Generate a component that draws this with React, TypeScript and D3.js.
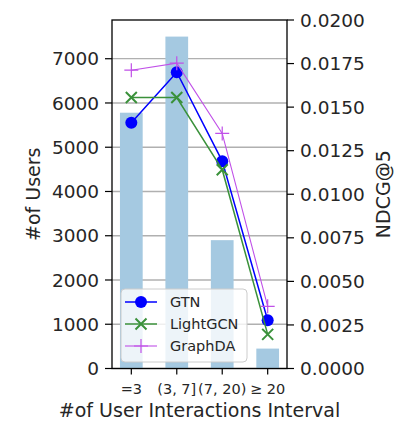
import React from "react";
import * as d3 from "d3";

const categories = ["=3", "(3, 7]", "(7, 20)", "≥ 20"];
const userCounts = [5780, 7500, 2900, 450];
const gtn = [0.0141, 0.0170, 0.0119, 0.00277];
const lightgcn = [0.01555, 0.01555, 0.01141, 0.00196];
const graphda = [0.01712, 0.01752, 0.01349, 0.00357];
const leftTicks = [0, 1000, 2000, 3000, 4000, 5000, 6000, 7000];
const rightTicks = [0, 0.0025, 0.005, 0.0075, 0.01, 0.0125, 0.015, 0.0175, 0.02];

const W = 395, H = 422;
const L = 112, R = 287, T = 20, B = 368.5;
const FONT = "DejaVu Sans";

export default function App() {
  const x = d3.scaleLinear().domain([-0.425, 3.425]).range([L, R]);
  const yL = d3.scaleLinear().domain([0, 7875]).range([B, T]);
  const yR = d3.scaleLinear().domain([0, 0.02]).range([B, T]);
  const idx = categories.map((_, i) => i);
  const line = (vals: number[]) =>
    d3.line<number>().x((_, i) => x(i)).y((v) => yR(v))(vals) || "";

  const series = [
    { name: "GTN", vals: gtn, color: "#0000ff", marker: "o", lw: 1.5 },
    { name: "LightGCN", vals: lightgcn, color: "#3a913a", marker: "x", lw: 1.5 },
    { name: "GraphDA", vals: graphda, color: "#c050e8", marker: "+", lw: 1.1 },
  ];

  const drawMarker = (m: string, cx: number, cy: number, color: string, key: any) => {
    if (m === "o") return <circle key={key} cx={cx} cy={cy} r={6} fill={color} />;
    if (m === "x") {
      const s = 5.5;
      return (
        <path key={key} d={`M${cx - s},${cy - s}L${cx + s},${cy + s}M${cx - s},${cy + s}L${cx + s},${cy - s}`}
          stroke={color} strokeWidth={2} fill="none" />
      );
    }
    const s = 7;
    return (
      <path key={key} d={`M${cx - s},${cy}L${cx + s},${cy}M${cx},${cy - s}L${cx},${cy + s}`}
        stroke={color} strokeWidth={1.2} fill="none" />
    );
  };

  const bw = x(0.5) - x(0);

  return (
    <svg width={W} height={H} style={{ position: "absolute", left: 0, top: 0 }}>
      <rect x={0} y={0} width={W} height={H} fill="#fff" />
      {/* gridlines (left axis) */}
      {leftTicks.map((t) => (
        <line key={"g" + t} x1={L} x2={R} y1={yL(t)} y2={yL(t)} stroke="#b0b0b0" strokeWidth={1.3} />
      ))}
      {/* bars */}
      {idx.map((i) => (
        <rect key={"b" + i} x={x(i) - bw / 2} y={yL(userCounts[i])} width={bw}
          height={yL(0) - yL(userCounts[i])} fill="#a5c9e1" />
      ))}
      {/* lines */}
      {series.map((s) => (
        <g key={s.name}>
          <path d={line(s.vals)} fill="none" stroke={s.color} strokeWidth={s.lw} />
          {s.vals.map((v, i) => drawMarker(s.marker, x(i), yR(v), s.color, i))}
        </g>
      ))}
      {/* spines */}
      <rect x={L} y={T} width={R - L} height={B - T} fill="none" stroke="#000" strokeWidth={1.3} />
      {/* left ticks */}
      {leftTicks.map((t) => (
        <g key={"lt" + t}>
          <line x1={L - 7} x2={L} y1={yL(t)} y2={yL(t)} stroke="#000" strokeWidth={1.2} />
          <text x={L - 13} y={yL(t)} dy="0.36em" textAnchor="end" fontFamily={FONT} fontSize={18.5} fill="#262626">{t}</text>
        </g>
      ))}
      {/* right ticks */}
      {rightTicks.map((t) => (
        <g key={"rt" + t}>
          <line x1={R} x2={R + 7} y1={yR(t)} y2={yR(t)} stroke="#000" strokeWidth={1.2} />
          <text x={R + 13} y={yR(t)} dy="0.36em" textAnchor="start" fontFamily={FONT} fontSize={18.5} fill="#262626">{t.toFixed(4)}</text>
        </g>
      ))}
      {/* x ticks */}
      {idx.map((i) => (
        <g key={"xt" + i}>
          <line x1={x(i)} x2={x(i)} y1={B} y2={B + 6} stroke="#000" strokeWidth={1.2} />
          <text x={x(i)} y={394} textAnchor="middle" fontFamily={FONT} fontSize={14.5} fill="#262626">{categories[i]}</text>
        </g>
      ))}
      {/* axis labels */}
      <text x={(L + R) / 2} y={417} textAnchor="middle" fontFamily={FONT} fontSize={19} fill="#262626">#of User Interactions Interval</text>
      <text transform={`translate(40,${(T + B) / 2}) rotate(-90)`} textAnchor="middle" fontFamily={FONT} fontSize={19} fill="#262626">#of Users</text>
      <text transform={`translate(390,${(T + B) / 2}) rotate(-90)`} textAnchor="middle" fontFamily={FONT} fontSize={19} fill="#262626">NDCG@5</text>
      {/* legend */}
      <g>
        <rect x={121} y={289} width={126} height={73} rx={4} fill="#fff" fillOpacity={0.8} stroke="#cccccc" strokeWidth={1} />
        {series.map((s, k) => {
          const cy = 302 + k * 22;
          return (
            <g key={"lg" + s.name}>
              <line x1={125} x2={157} y1={cy} y2={cy} stroke={s.color} strokeWidth={s.lw} />
              {drawMarker(s.marker, 141, cy, s.color, "m")}
              <text x={170} y={cy} dy="0.36em" fontFamily={FONT} fontSize={14.5} fill="#262626">{s.name}</text>
            </g>
          );
        })}
      </g>
    </svg>
  );
}
